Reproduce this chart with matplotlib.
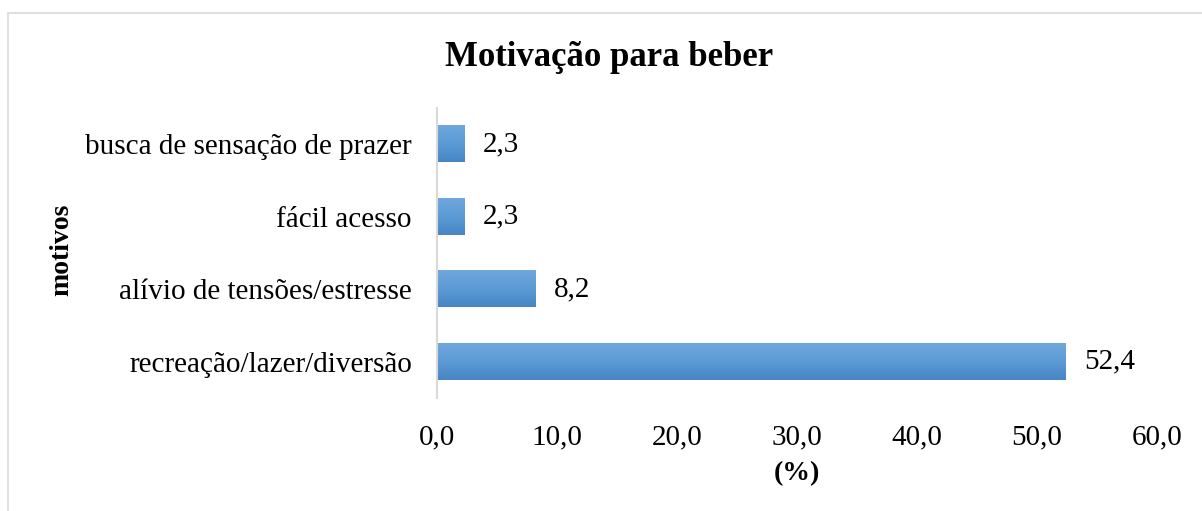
import matplotlib.pyplot as plt
import numpy as np
from matplotlib.patches import Rectangle
from matplotlib.colors import LinearSegmentedColormap

plt.rcParams['font.family'] = ['Liberation Serif', 'DejaVu Serif']

# data
motivos = ['recreação/lazer/diversão', 'alívio de tensões/estresse',
           'fácil acesso', 'busca de sensação de prazer']
valores = [52.4, 8.2, 2.3, 2.3]
xticks = [0, 10, 20, 30, 40, 50, 60]

fig = plt.figure(figsize=(12.02, 5.11), dpi=100)
ax = fig.add_axes([437 / 1202, 1 - 398 / 511, 720 / 1202, 290 / 511])

# outer light frame of the chart area
fig.patches.append(Rectangle((8 / 1202, -0.1), 1.2, 1 - 13 / 511 + 0.1,
                             transform=fig.transFigure, fill=False,
                             edgecolor='#d9d9d9', linewidth=1.2))

y = np.arange(len(motivos))
bar_h = 0.5
bars = ax.barh(y, valores, height=bar_h, color='#5b9bd5', edgecolor='none')

# vertical gradient inside each bar (lighter top, darker bottom)
grad = np.linspace(0, 1, 64).reshape(-1, 1)
cmap = LinearSegmentedColormap.from_list('g', ['#4785c6', '#5b9bd5', '#70a6dd'])
for bar in bars:
    x0, y0 = bar.get_x(), bar.get_y()
    w, h = bar.get_width(), bar.get_height()
    ax.imshow(grad, extent=[x0, x0 + w, y0, y0 + h], cmap=cmap,
              aspect='auto', origin='lower', zorder=2)
    bar.set_alpha(0)

for yi, v in zip(y, valores):
    ax.annotate(f'{v:.1f}'.replace('.', ','), (v, yi), xytext=(13, 0),
                textcoords='offset points', va='center', ha='left', fontsize=21)

ax.set_xlim(0, 60)
ax.set_ylim(-0.5, 3.5)
ax.set_xticks(xticks)
ax.set_xticklabels([f'{t:.1f}'.replace('.', ',') for t in xticks], fontsize=21)
ax.set_yticks(y)
ax.set_yticklabels(motivos, fontsize=21)
ax.tick_params(axis='both', length=0)
ax.tick_params(axis='y', pad=18)
ax.tick_params(axis='x', pad=19)

for s in ['top', 'right', 'bottom']:
    ax.spines[s].set_visible(False)
ax.spines['left'].set_color('#d9d9d9')
ax.spines['left'].set_linewidth(1.5)

ax.set_xlabel('(%)', fontsize=20, fontweight='bold', labelpad=8)
fig.text(62 / 1202, 1 - 250 / 511, 'motivos', rotation=90, fontsize=20,
         fontweight='bold', ha='center', va='center')
fig.text(609 / 1202, 1 - 57 / 511, 'Motivação para beber', fontsize=25,
         fontweight='bold', ha='center', va='center')

fig.savefig('out.png', dpi=100)
